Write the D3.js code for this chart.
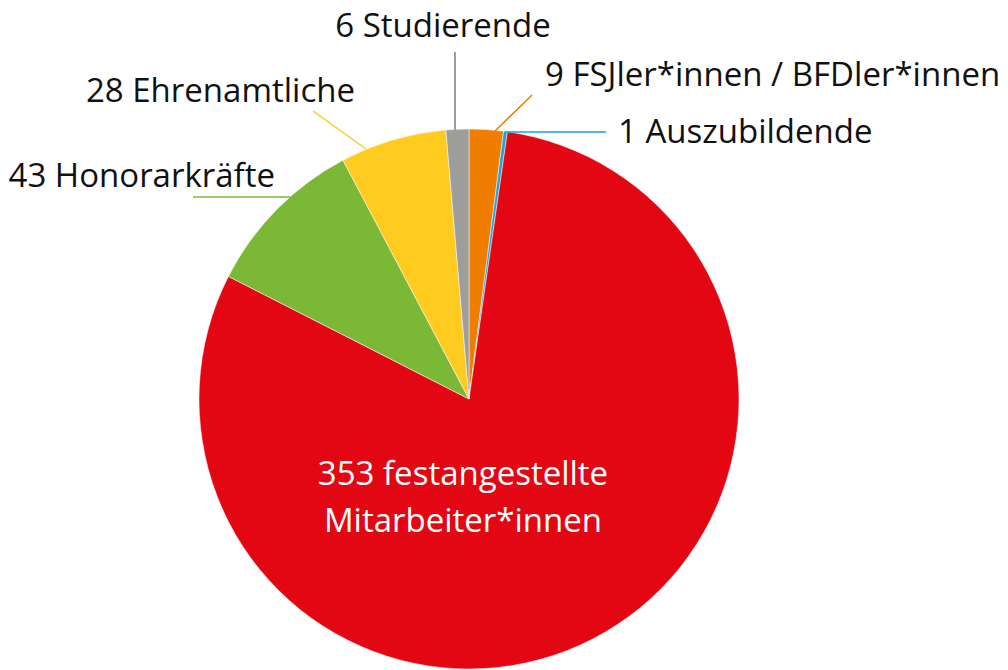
<!DOCTYPE html>
<html>
<head>
<meta charset="utf-8">
<script src="https://cdn.jsdelivr.net/npm/d3@7"></script>
<style>
body{margin:0;background:#fff;}
text{font-family:"Open Sans",sans-serif;}
</style>
</head>
<body>
<svg id="chart"></svg>
<script>
// data, clockwise from 12 o'clock
var labels=["9 FSJler*innen / BFDler*innen","1 Auszubildende","353 festangestellte Mitarbeiter*innen","43 Honorarkräfte","28 Ehrenamtliche","6 Studierende"];
var values=[9,1,353,43,28,6];
var colors=["#ef7d00","#1aa3dd","#e30613","#7ab835","#fecb1e","#9d9d9c"];

var width=1008,height=670;
var cx=469,cy=399,radius=270;
var fontSize=33;

var svg=d3.select("#chart")
  .attr("width",width)
  .attr("height",height);

var pie=d3.pie().sort(null).value(function(d){return d;});
var arcs=pie(values);
var arc=d3.arc().innerRadius(0).outerRadius(radius);

var g=svg.append("g").attr("transform","translate("+cx+","+cy+")");

g.selectAll("path")
  .data(arcs)
  .enter()
  .append("path")
  .attr("d",arc)
  .attr("fill",function(d,i){return colors[i];})
  .attr("stroke","#fff")
  .attr("stroke-width",0.5);

// label layout: leader start, line length (dx,dy), text position, anchor
var layout=[
  {sx:495,sy:131,lx:37,ly:-36,tx:545,ty:86,anchor:"start"},
  {sx:505,sy:132,lx:101,ly:0,tx:618,ty:143,anchor:"start"},
  null,
  {sx:290,sy:197,lx:-97,ly:0,tx:275,ty:187,anchor:"end"},
  {sx:366,sy:149,lx:-53,ly:-38,tx:355,ty:102,anchor:"end"},
  {sx:455,sy:130,lx:0,ly:-78,tx:443,ty:37,anchor:"middle"}
];

arcs.forEach(function(d,i){
  var L=layout[i];
  if(!L){
    // label inside the big slice
    var parts=["353 festangestellte","Mitarbeiter*innen"];
    svg.append("text")
      .attr("x",cx-6)
      .attr("y",cy+86)
      .attr("text-anchor","middle")
      .attr("fill","#fff")
      .attr("font-size",fontSize)
      .selectAll("tspan")
      .data(parts)
      .enter()
      .append("tspan")
      .attr("x",cx-6)
      .attr("dy",function(p,j){return j==0?0:47;})
      .text(function(p){return p;});
    return;
  }
  svg.append("line")
    .attr("x1",L.sx).attr("y1",L.sy)
    .attr("x2",L.sx+L.lx).attr("y2",L.sy+L.ly)
    .attr("stroke",colors[i])
    .attr("stroke-width",i==5?2:1.5);
  svg.append("text")
    .attr("x",L.tx)
    .attr("y",L.ty)
    .attr("text-anchor",L.anchor)
    .attr("fill","#111")
    .attr("font-size",fontSize)
    .text(labels[i]);
});
</script>
</body>
</html>
